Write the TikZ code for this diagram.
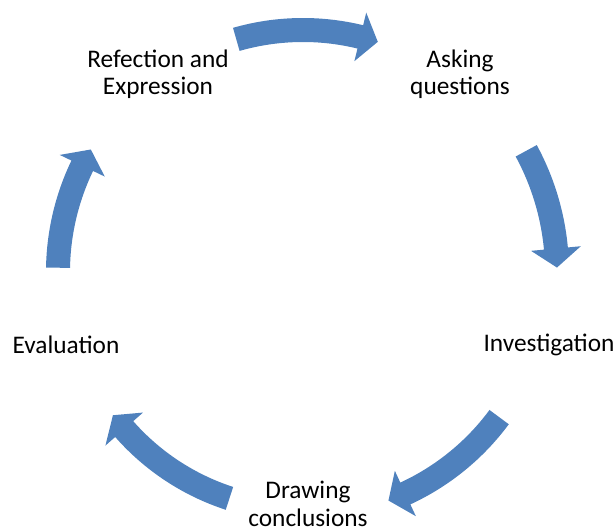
\documentclass[tikz,border=0pt]{standalone}
\usepackage{fontspec}
\setmainfont{Carlito}
\usepackage{tikz}
\usetikzlibrary{calc}

\definecolor{cycleblue}{RGB}{79,129,189}

% curved block arrow round the centre (C): start angle, end angle, radius
\newcommand{\cyclearrow}[3]{%
  \fill[cycleblue,shift={(C)}]
    (#1:#3+12) arc[start angle=#1, end angle=#2+4.3, radius=#3+12]
    -- (#2+4.3:#3+25) -- (#2:#3) -- (#2+4.3:#3-25)
    -- (#2+4.3:#3-12) arc[start angle=#2+4.3, end angle=#1, radius=#3-12]
    -- cycle;}

\begin{document}
\begin{tikzpicture}[x=0.75pt,y=0.75pt,
  every node/.style={font=\fontsize{19}{20.5}\selectfont, align=center}]
\useasboundingbox (0,0) rectangle (616,531);
\coordinate (C) at (303,259);

\node (refl) at (158,457) {Refection and\\Expression};
\node (ask)  at (460,457) {Asking\\questions};
\node (inv)  at (549,186) {Investigation};
\node (conc) at (308,27)  {Drawing\\conclusions};
\node (eval) at (66,186)  {Evaluation};

\cyclearrow{106}{72}{242}
\cyclearrow{28.5}{1}{254}
\cyclearrow{-36.5}{-69.5}{244}
\cyclearrow{-108}{-143}{238}
\cyclearrow{179}{150}{245}

\end{tikzpicture}
\end{document}
